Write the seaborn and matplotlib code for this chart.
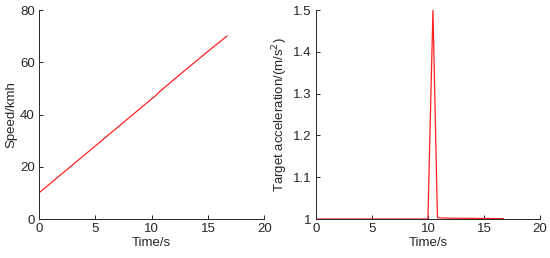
import pandas as pd
import numpy as np
import matplotlib.pyplot as plt
import seaborn as sns

# Dados
tempo_vel = [0, 2, 4, 6, 8, 10, 10.3, 10.6, 10.9, 13, 15, 16.7]
velocidade = [10, 17.2, 24.4, 31.6, 38.8, 46, 47, 48.3, 49.5, 57.1, 64.2, 70.1]

tempo_acel = [0, 10.0, 10.45, 10.85, 12, 16.75]
aceleracao = [1, 1, 1.5, 1.003, 1.002, 1.001]

sns.set_style("ticks")
plt.rcParams["font.family"] = ["Liberation Sans", "DejaVu Sans"]
plt.rcParams["font.size"] = 9.5
plt.rcParams["xtick.direction"] = "in"
plt.rcParams["ytick.direction"] = "in"

fig = plt.figure(figsize=(5.5, 2.58), dpi=100)
ax1 = fig.add_axes([0.0709, 0.151, 0.4097, 0.81])
ax2 = fig.add_axes([0.574, 0.151, 0.408, 0.81])

df_vel = pd.DataFrame({"t": tempo_vel, "v": velocidade})
df_acel = pd.DataFrame({"t": tempo_acel, "a": aceleracao})

sns.lineplot(data=df_vel, x="t", y="v", ax=ax1, color="#ff2020", linewidth=0.9)
sns.lineplot(data=df_acel, x="t", y="a", ax=ax2, color="#ff2020", linewidth=0.9)

ax1.set_xlim(0, 20)
ax1.set_ylim(0, 80)
ax1.set_xticks([0, 5, 10, 15, 20])
ax1.set_yticks([0, 20, 40, 60, 80])
ax1.set_xlabel("Time/s", labelpad=1)
ax1.set_ylabel("Speed/kmh", labelpad=2)

ax2.set_xlim(0, 20)
ax2.set_ylim(1, 1.5)
ax2.set_xticks([0, 5, 10, 15, 20])
ax2.set_yticks([1, 1.1, 1.2, 1.3, 1.4, 1.5])
ax2.set_yticklabels(["1", "1.1", "1.2", "1.3", "1.4", "1.5"])
ax2.set_xlabel("Time/s", labelpad=1)
ax2.set_ylabel("Target acceleration/(m/s$^2$)", labelpad=2)

for ax in [ax1, ax2]:
    sns.despine(ax=ax)
    for s in ["left", "bottom"]:
        ax.spines[s].set_color("#262626")
        ax.spines[s].set_linewidth(0.7)
    ax.tick_params(length=3, width=0.7, colors="#262626", pad=3)

fig.savefig("out.png", dpi=100)
